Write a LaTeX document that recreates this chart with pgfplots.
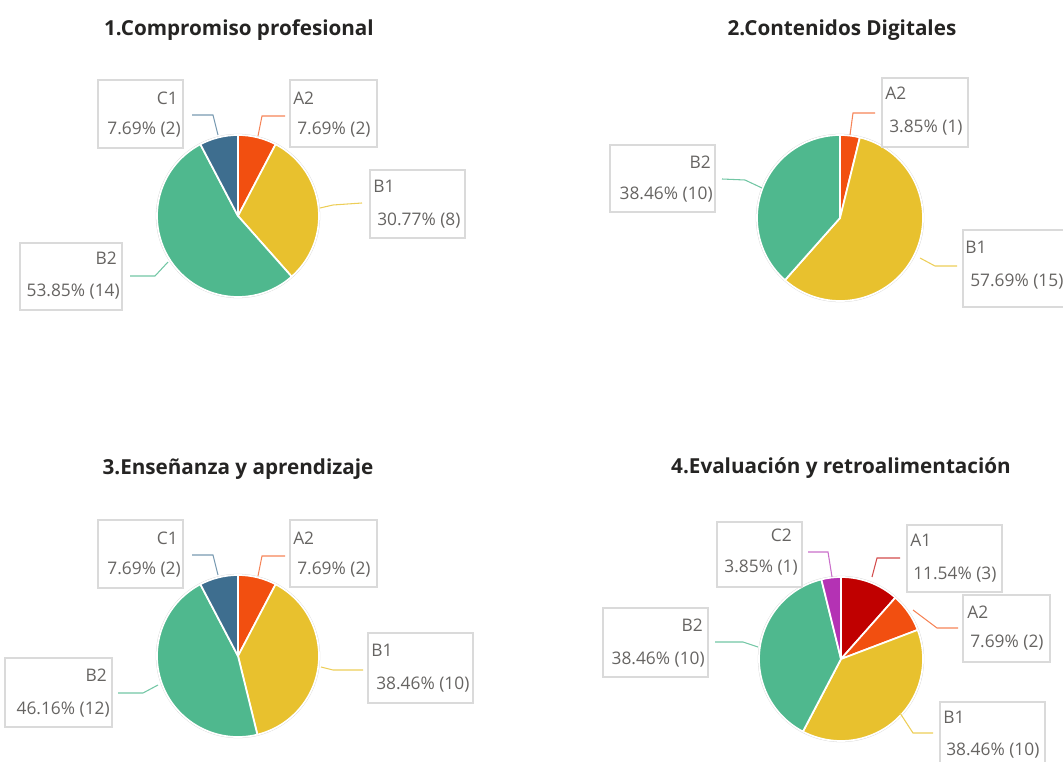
\documentclass[border=0pt]{standalone}
\usepackage{pgfplots}
\pgfplotsset{compat=1.18}
\usepackage{fontspec}
\setmainfont{Open Sans}
\definecolor{cA1}{HTML}{C00000}
\definecolor{cA2}{HTML}{F24F10}
\definecolor{cB1}{HTML}{E8C12E}
\definecolor{cB2}{HTML}{4FB88E}
\definecolor{cC1}{HTML}{3E6E8F}
\definecolor{cC2}{HTML}{B432B4}
\definecolor{boxc}{HTML}{DADADA}
\definecolor{lblc}{HTML}{666462}
\definecolor{titc}{HTML}{252423}
% slice: cx, cy (px), r (px), cumulative count before, count, colour ; total 26
\newcommand{\slice}[6]{%
  \fill[#6, draw=white, line width=1.3pt, line join=round]
    (axis cs:#1,#2) -- (axis cs:{#1+#3*cos(90-360*#4/26)},{#2-#3*sin(90-360*#4/26)})
    arc[start angle={90-360*#4/26}, end angle={90-360*(#4+#5)/26}, radius=#3*0.75pt] -- cycle;}
\newcommand{\ring}[3]{\draw[black!18, line width=0.7pt] (axis cs:#1,#2) circle[radius=#3*0.75pt+0.5pt];}
\newcommand{\lbox}[4]{\draw[boxc, line width=0.8pt] (axis cs:#1,#2) rectangle (axis cs:#3,#4);}
\newcommand{\ltxt}[4]{\node[anchor=#3, inner sep=0pt, text=lblc, font=\fontsize{13}{15}\selectfont] at (axis cs:#1,#2) {#4};}
\newcommand{\ttl}[3]{\node[anchor=center, inner sep=0pt, text=titc, font=\fontsize{15.5}{18}\bfseries\selectfont] at (axis cs:#1,#2) {#3};}
\begin{document}
\begin{tikzpicture}
\begin{axis}[
  scale only axis, width=797.25pt, height=571.5pt,
  xmin=0, xmax=1063, ymin=0, ymax=762, y dir=reverse,
  hide axis, clip=true]
\addplot[draw=none] coordinates {(0,0) (1063,762)};
% ---------- 1. Compromiso profesional : A2 2, B1 8, B2 14, C1 2
\ttl{239}{30}{1.Compromiso profesional}
\ring{238}{216}{81}
\slice{238}{216}{81}{0}{2}{cA2}
\slice{238}{216}{81}{2}{8}{cB1}
\slice{238}{216}{81}{10}{14}{cB2}
\slice{238}{216}{81}{24}{2}{cC1}
\lbox{98}{80}{183}{148}
\ltxt{178}{98}{east}{C1}\ltxt{181}{130}{east}{7.69\% (2)}
\draw[cC1!70, line width=0.8pt] (axis cs:192,115) -- (axis cs:213,115) -- (axis cs:218,135);
\lbox{290}{80}{377}{147}
\ltxt{293}{98}{west}{A2}\ltxt{297}{130}{west}{7.69\% (2)}
\draw[cA2!70, line width=0.8pt] (axis cs:258,136) -- (axis cs:262,116) -- (axis cs:285,116);
\lbox{370}{170}{465}{238}
\ltxt{373}{186}{west}{B1}\ltxt{377}{221}{west}{30.77\% (8)}
\draw[cB1!80, line width=0.8pt] (axis cs:320,208) -- (axis cs:333,205) -- (axis cs:362,203);
\lbox{20}{243}{122}{310}
\ltxt{117}{258}{east}{B2}\ltxt{120}{292}{east}{53.85\% (14)}
\draw[cB2!80, line width=0.8pt] (axis cs:130,276) -- (axis cs:155,276) -- (axis cs:168,262);
% ---------- 2. Contenidos Digitales : A2 1, B1 15, B2 10
\ttl{842}{30}{2.Contenidos Digitales}
\ring{840}{218}{83}
\slice{840}{218}{83}{0}{1}{cA2}
\slice{840}{218}{83}{1}{15}{cB1}
\slice{840}{218}{83}{16}{10}{cB2}
\lbox{882}{78}{968}{147}
\ltxt{885}{93}{west}{A2}\ltxt{889}{128}{west}{3.85\% (1)}
\draw[cA2!70, line width=0.8pt] (axis cs:850,135) -- (axis cs:853,113) -- (axis cs:875,113);
\lbox{610}{145}{715}{212}
\ltxt{711}{162}{east}{B2}\ltxt{713}{195}{east}{38.46\% (10)}
\draw[cB2!80, line width=0.8pt] (axis cs:722,179) -- (axis cs:745,180) -- (axis cs:762,188);
\lbox{963}{230}{1080}{307}
\ltxt{965}{247}{west}{B1}\ltxt{970}{282}{west}{57.69\% (15)}
\draw[cB1!80, line width=0.8pt] (axis cs:920,258) -- (axis cs:935,266) -- (axis cs:957,266);
% ---------- 3. Ensenanza y aprendizaje : A2 2, B1 10, B2 12, C1 2
\ttl{238}{469}{3.Enseñanza y aprendizaje}
\ring{238}{656}{81}
\slice{238}{656}{81}{0}{2}{cA2}
\slice{238}{656}{81}{2}{10}{cB1}
\slice{238}{656}{81}{12}{12}{cB2}
\slice{238}{656}{81}{24}{2}{cC1}
\lbox{98}{520}{183}{588}
\ltxt{178}{538}{east}{C1}\ltxt{181}{570}{east}{7.69\% (2)}
\draw[cC1!70, line width=0.8pt] (axis cs:192,555) -- (axis cs:213,555) -- (axis cs:218,575);
\lbox{290}{520}{377}{587}
\ltxt{293}{538}{west}{A2}\ltxt{297}{570}{west}{7.69\% (2)}
\draw[cA2!70, line width=0.8pt] (axis cs:258,576) -- (axis cs:262,556) -- (axis cs:285,556);
\lbox{368}{633}{473}{703}
\ltxt{371}{650}{west}{B1}\ltxt{376}{685}{west}{38.46\% (10)}
\draw[cB1!80, line width=0.8pt] (axis cs:321,667) -- (axis cs:333,670) -- (axis cs:363,670);
\lbox{5}{658}{112}{727}
\ltxt{107}{675}{east}{B2}\ltxt{110}{710}{east}{46.16\% (12)}
\draw[cB2!80, line width=0.8pt] (axis cs:118,693) -- (axis cs:143,693) -- (axis cs:158,685);
% ---------- 4. Evaluacion y retroalimentacion : A1 3, A2 2, B1 10, B2 10, C2 1
\ttl{841}{468}{4.Evaluación y retroalimentación}
\ring{841}{659}{82}
\slice{841}{659}{82}{0}{3}{cA1}
\slice{841}{659}{82}{3}{2}{cA2}
\slice{841}{659}{82}{5}{10}{cB1}
\slice{841}{659}{82}{15}{10}{cB2}
\slice{841}{659}{82}{25}{1}{cC2}
\lbox{717}{522}{802}{587}
\ltxt{792}{535}{east}{C2}\ltxt{798}{568}{east}{3.85\% (1)}
\draw[cC2!70, line width=0.8pt] (axis cs:808,552) -- (axis cs:828,552) -- (axis cs:832,577);
\lbox{907}{525}{1002}{592}
\ltxt{910}{540}{west}{A1}\ltxt{913}{575}{west}{11.54\% (3)}
\draw[cA1!70, line width=0.8pt] (axis cs:872,577) -- (axis cs:877,558) -- (axis cs:900,558);
\lbox{963}{595}{1050}{662}
\ltxt{967}{612}{west}{A2}\ltxt{970}{643}{west}{7.69\% (2)}
\draw[cA2!70, line width=0.8pt] (axis cs:913,610) -- (axis cs:937,628) -- (axis cs:958,628);
\lbox{603}{608}{708}{677}
\ltxt{703}{625}{east}{B2}\ltxt{705}{660}{east}{38.46\% (10)}
\draw[cB2!80, line width=0.8pt] (axis cs:715,642) -- (axis cs:743,642) -- (axis cs:758,647);
\lbox{940}{702}{1045}{770}
\ltxt{943}{717}{west}{B1}\ltxt{946}{751}{west}{38.46\% (10)}
\draw[cB1!80, line width=0.8pt] (axis cs:900,713) -- (axis cs:913,733) -- (axis cs:933,733);
\end{axis}
\pgfresetboundingbox
\path[use as bounding box] (current axis.south west) rectangle (current axis.north east);
\end{tikzpicture}
\end{document}
